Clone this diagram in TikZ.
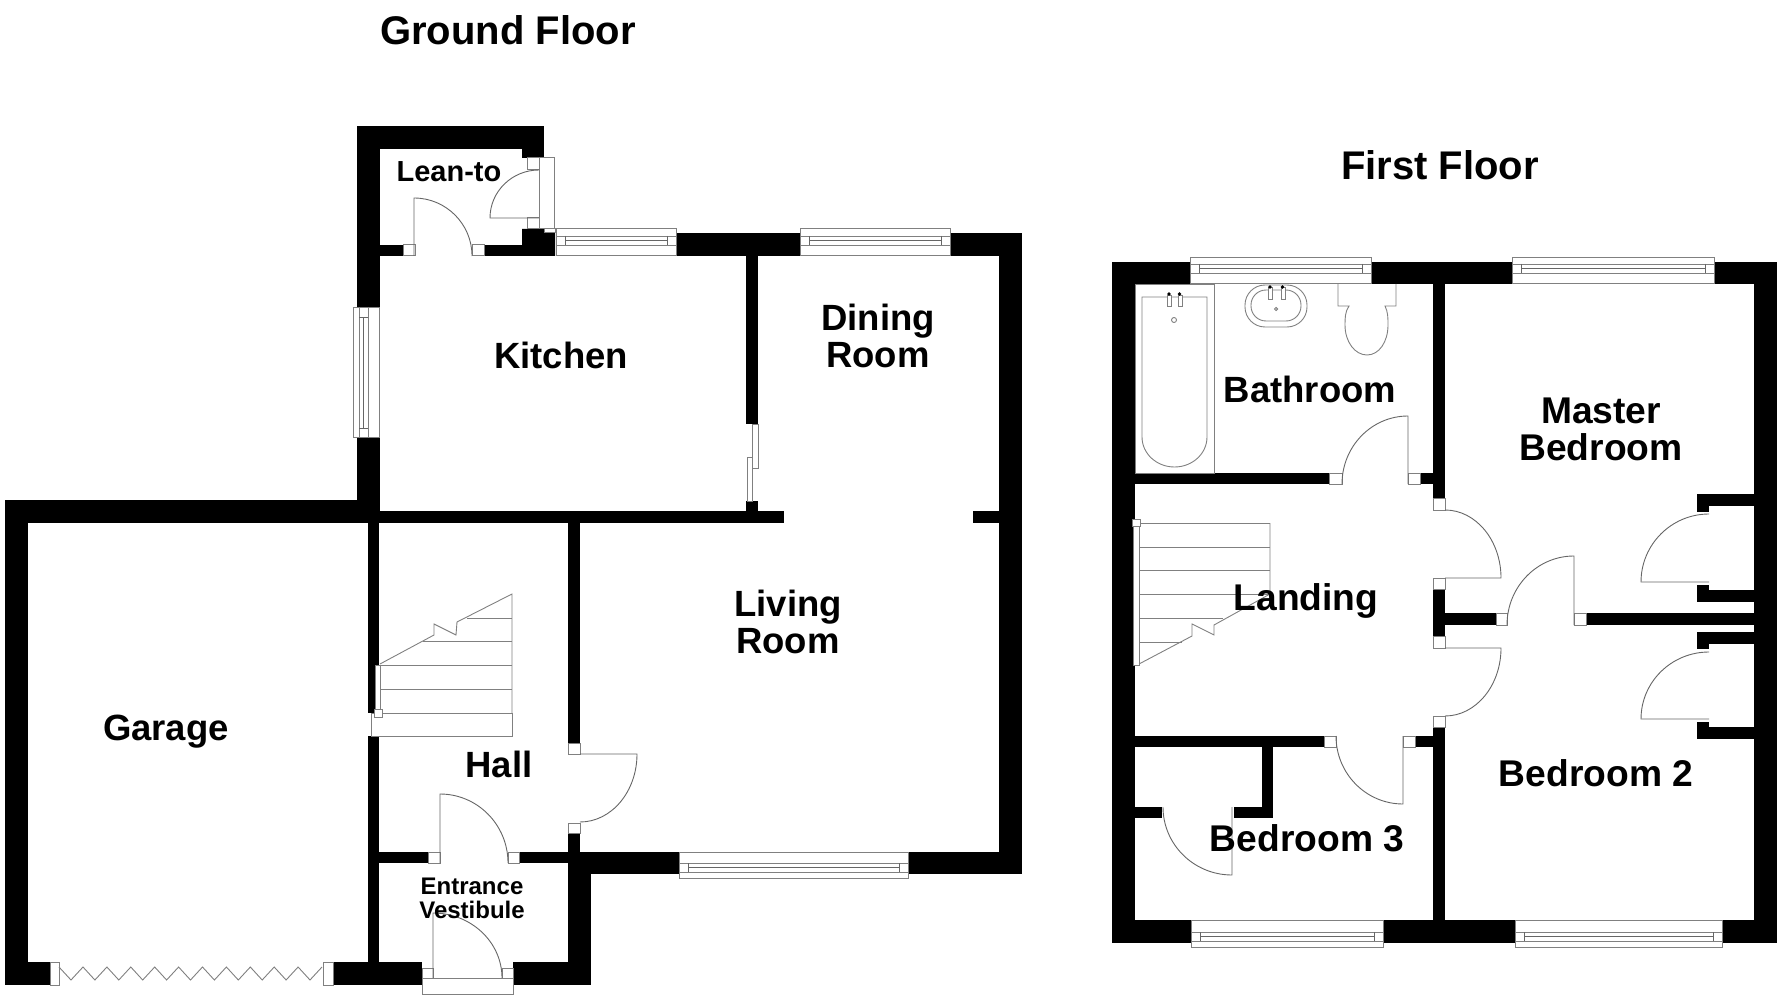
\documentclass[tikz,border=0pt]{standalone}
\usepackage{fontspec}
\setmainfont{Liberation Sans}
\usetikzlibrary{calc}
\definecolor{LINEGREY}{HTML}{808080}
\tikzset{
    wall/.style={fill=black},
    jamb/.style={draw=LINEGREY, fill=white, line width=1pt},
    fixture/.style={draw=LINEGREY, line width=0.9pt, line join=miter},
    leaf/.style={draw=black!60, line width=0.9pt},
    roomlabel/.style={font=\fontsize{36.5}{37}\selectfont\bfseries, anchor=base, align=center, inner sep=0pt},
    bedlabel/.style={font=\fontsize{37.2}{37}\selectfont\bfseries, anchor=base, align=center, inner sep=0pt},
    smalllabel/.style={font=\fontsize{24}{24}\selectfont\bfseries, anchor=base, align=center, inner sep=0pt},
    floorlabel/.style={font=\fontsize{40}{40}\selectfont\bfseries, anchor=base, inner sep=0pt}
}
% x1, x2, ytop, ybottom, top of the band
\newcommand{\HWINDOW}[5]{
    \draw[jamb] (#1,#3) rectangle (#2,#4);
    \draw[fixture] (#1,#5) -- (#2,#5) (#1,#5+9) -- (#2,#5+9);
    \draw[leaf] (#1+9,#5) -- (#1+9,#5+9) (#2-9,#5) -- (#2-9,#5+9) (#1+9,#5+4.5) -- (#2-9,#5+4.5);
}
% hinge, tip of the leaf, far end of the swing
\newcommand{\DOOR}[6]{
    \draw[leaf] (#1,#2) -- (#3,#4) .. controls ($(#3,#4)+.5523*(#5,#6)-.5523*(#1,#2)$) and ($(#5,#6)+.5523*(#3,#4)-.5523*(#1,#2)$) .. (#5,#6);
}
\begin{document}
\begin{tikzpicture}[x=1pt, y=-1pt]
    \useasboundingbox (0,0) rectangle (1780,1000);

    % Ground floor walls
    \foreach \xa/\ya/\xb/\yb in {357/126/544/149, 522/149/544/158, 357/126/380/308, 357/437/380/512,
        380/245/403/256, 484/245/522/256, 676/233/800/256, 950/233/1022/256, 999/233/1022/874,
        746/256/758/424, 746/501/758/512, 5/500/379/523, 379/511/784/523, 973/511/999/523,
        5/500/28/985, 5/962/50/985, 333/962/422/985, 513/962/591/985,
        368/523/379/713, 368/736/379/962, 568/523/580/743, 568/833/580/852,
        379/852/428/863, 519/852/568/863, 568/852/591/985, 591/852/679/874, 908/852/1022/874}
        \fill[wall] (\xa,\ya) rectangle (\xb,\yb);
    \fill[wall] (522,229) -- (544,229) -- (544,233) -- (555,233) -- (555,256) -- (522,256) -- cycle;

    % First floor walls
    \foreach \xa/\ya/\xb/\yb in {1112/262/1190/284, 1371/262/1512/284, 1714/262/1777/284,
        1112/262/1135/943, 1754/262/1777/943, 1433/284/1445/498, 1433/589/1445/636, 1433/727/1445/920,
        1135/473/1329/484, 1420/473/1433/484, 1135/736/1324/747, 1415/736/1433/747,
        1262/747/1273/818, 1234/807/1262/818, 1135/807/1162/818, 1445/613/1496/625, 1586/613/1754/625,
        1697/494/1754/506, 1697/494/1709/512, 1697/590/1754/602, 1697/585/1709/602,
        1697/632/1754/644, 1697/632/1709/649, 1697/727/1754/739, 1697/722/1709/739,
        1112/920/1191/943, 1383/920/1515/943, 1722/920/1777/943}
        \fill[wall] (\xa,\ya) rectangle (\xb,\yb);

    % Windows
    \HWINDOW{556}{676}{229}{256}{236}
    \HWINDOW{800}{950}{229}{256}{236}
    \HWINDOW{679}{908}{852}{878}{863}
    \HWINDOW{1190}{1371}{258}{284}{264}
    \HWINDOW{1512}{1714}{258}{284}{264}
    \HWINDOW{1191}{1383}{920}{947}{932}
    \HWINDOW{1515}{1722}{920}{947}{932}
    \draw[jamb] (353,308) rectangle (379,437);
    \draw[fixture] (359,308) -- (359,437) (368,308) -- (368,437);
    \draw[leaf] (359,317) -- (368,317) (359,428) -- (368,428) (363.5,317) -- (363.5,428);

    % Stairs, ground floor
    \draw[jamb] (371,713) rectangle (512,736);
    \draw[jamb] (375,665) rectangle (380,712);
    \draw[fixture] (380,664) -- (434,635) -- (434,624) -- (456,635) -- (457,622) -- (512,594) -- (512,713);
    \draw[fixture] (467,618) -- (512,618) (423,641) -- (512,641);
    \foreach \ytread in {665,689} \draw[fixture] (380,\ytread) -- (512,\ytread);

    % Stairs, first floor
    \draw[jamb] (1133,526) rectangle (1139,665);
    \draw[fixture] (1139,664) -- (1192,636) -- (1192,624) -- (1214,635) -- (1214,625) -- (1270,594) -- (1270,523);
    \foreach \ytread in {523,547,570,594} \draw[fixture] (1139,\ytread) -- (1270,\ytread);
    \draw[fixture] (1139,618) -- (1223,618) (1139,642) -- (1182,642);

    % Door frames
    \foreach \xa/\ya/\xb/\yb in {403/245/415/256, 472/245/484/256, 527/158/539/170, 527/218/539/229,
        539/158/554/229, 544/229/555/233, 568/743/580/754, 568/823/580/833, 428/852/440/863, 508/852/519/863,
        422/968/433/978, 502/968/513/978, 422/978/513/994, 50/962/59/985, 323/962/333/985, 374/709/382/717,
        752/424/758/468, 747/457/752/501,
        1329/473/1342/484, 1408/473/1420/484, 1433/498/1445/510, 1433/578/1445/589, 1433/636/1445/648,
        1433/716/1445/727, 1324/736/1336/747, 1403/736/1415/747, 1496/613/1507/625, 1574/613/1586/625,
        1132/519/1140/526}
        \draw[jamb] (\xa,\ya) rectangle (\xb,\yb);

    % Doors
    \DOOR{539}{218}{490}{218}{539}{170}
    \DOOR{414}{256}{414}{198}{472}{256}
    \DOOR{580}{754}{637}{754}{580}{822}
    \DOOR{440}{863}{440}{794}{508}{863}
    \DOOR{433}{978}{433}{913}{502}{978}
    \DOOR{1408}{484}{1408}{416}{1342}{484}
    \DOOR{1445}{578}{1501}{578}{1445}{510}
    \DOOR{1445}{648}{1501}{648}{1445}{716}
    \DOOR{1574}{625}{1574}{556}{1507}{625}
    \DOOR{1403}{736}{1403}{804}{1336}{736}
    \DOOR{1232}{807}{1232}{875}{1163}{807}
    \DOOR{1709}{582}{1641}{582}{1709}{514}
    \DOOR{1709}{719}{1641}{719}{1709}{652}

    % Garage door
    \draw[fixture] (59,967) \foreach \i in {0,...,10} { -- (71+23.9*\i,980) -- (83+23.9*\i,967) };

    % Bath
    \draw[fixture] (1135,284) rectangle (1214,473);
    \draw[fixture] (1142,297) -- (1207,297) -- (1207,437) arc[start angle=0, end angle=180, x radius=32.5, y radius=30] -- cycle;
    \draw[jamb] (1167,296) rectangle (1171,307) (1178,296) rectangle (1182,307);
    \fill (1169,294) circle (1.8pt) (1179.5,294) circle (1.8pt);
    \draw[fixture] (1174,320) circle (2.5pt);

    % Basin
    \draw[fixture, rounded corners=20pt] (1245,285) rectangle (1307,327);
    \draw[fixture, rounded corners=15pt] (1251,290) rectangle (1301,321);
    \draw[jamb] (1268,288) rectangle (1272,300) (1281,288) rectangle (1285,300);
    \fill (1270,287) circle (1.8pt) (1282.5,287) circle (1.8pt);
    \draw[fixture] (1276,309) circle (1.6pt);

    % WC
    \draw[fixture] (1338,284) -- (1338,306) -- (1349,306) .. controls (1345,312) and (1345,318) .. (1345,325)
        .. controls (1345,342) and (1355,355) .. (1367,355) .. controls (1379,355) and (1388,342) .. (1388,325)
        .. controls (1388,318) and (1388,312) .. (1385,306) -- (1396,306) -- (1396,284);

    % Labels (the base of a two-line node is its last line)
    \node[floorlabel] (groundfloor) at (508,45) {Ground Floor};
    \node[floorlabel] (firstfloor) at (1440,180) {First Floor};
    \node[font=\fontsize{29}{29}\selectfont\bfseries, anchor=base, inner sep=0pt] (leanto) at (449,182) {Lean-to};
    \node[roomlabel] (kitchen) at (561,368) {Kitchen};
    \node[roomlabel] (dining) at (878,367) {Dining\\Room};
    \node[roomlabel] (living) at (788,653) {Living\\Room};
    \node[roomlabel] (garage) at (166,740) {Garage};
    \node[roomlabel] (hall) at (499,777) {Hall};
    \node[smalllabel] (vestibule) at (472,918) {Entrance\\Vestibule};
    \node[roomlabel] (bathroom) at (1310,402) {Bathroom};
    \node[bedlabel] (master) at (1601,460) {Master\\Bedroom};
    \node[bedlabel] (landing) at (1306,610) {Landing};
    \node[bedlabel] (bedroomtwo) at (1596,786) {Bedroom 2};
    \node[bedlabel] (bedroomthree) at (1307,851) {Bedroom 3};
\end{tikzpicture}
\end{document}
